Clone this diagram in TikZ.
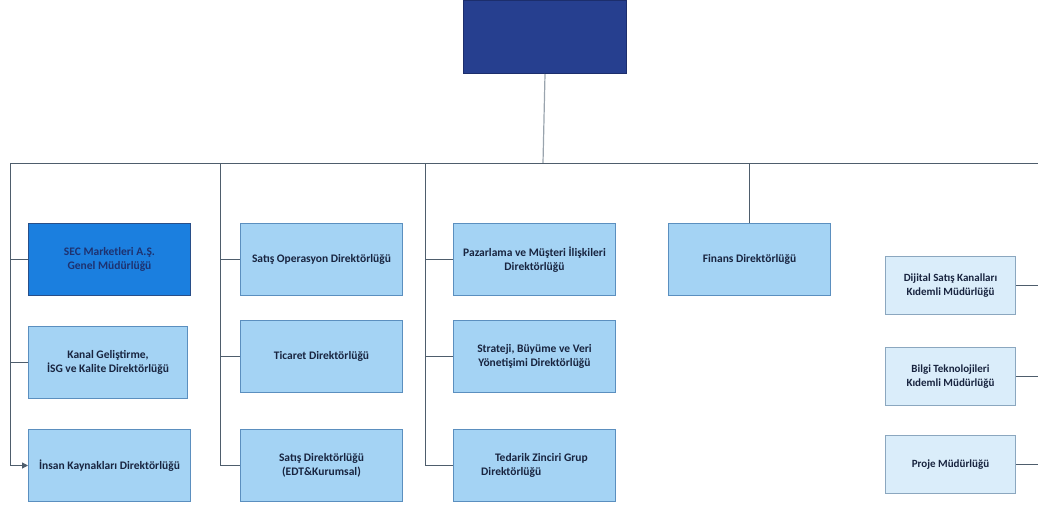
\documentclass[tikz,border=0pt]{standalone}
\usepackage{fontspec}
\setmainfont{Carlito}
\usetikzlibrary{arrows.meta}
\definecolor{lineC}{HTML}{4E5D6C}
\definecolor{lineL}{HTML}{9AA4AE}
\definecolor{boxF}{HTML}{A4D3F4}
\definecolor{boxD}{HTML}{5B8FBF}
\definecolor{paleF}{HTML}{DAEDFA}
\definecolor{paleD}{HTML}{8BA7BF}
\definecolor{secF}{HTML}{1B7FDF}
\definecolor{secD}{HTML}{284E88}
\definecolor{secT}{HTML}{1E3270}
\definecolor{topF}{HTML}{263F8F}
\definecolor{topD}{HTML}{1C2E6C}
\definecolor{txtC}{HTML}{18243F}
\tikzset{
  x=1pt, y=-1pt,
  unitbox/.style={draw=boxD, fill=boxF, line width=1pt, anchor=north west,
    minimum width=162pt, minimum height=72pt, align=center, text=txtC,
    inner sep=2pt, font=\bfseries\fontsize{11.5}{14}\selectfont},
  palebox/.style={unitbox, draw=paleD, fill=paleF, minimum width=130pt,
    minimum height=58pt, font=\bfseries\fontsize{11}{13.5}\selectfont},
  conn/.style={draw=lineC, line width=1pt},
}
\begin{document}
\begin{tikzpicture}
\useasboundingbox (0,0) rectangle (1038,506);
% top box
\node[draw=topD, fill=topF, line width=1pt, anchor=north west,
      minimum width=163pt, minimum height=73pt] (top) at (463,0) {};
% trunk
\coordinate (hl) at (10,163);
\coordinate (hr) at (1038,163);
\coordinate (jt) at (543,163);
\draw[draw=lineL, line width=1.2pt] (top.south) -- (jt);
\draw[conn] (hl) -- (hr);
% column 1
\node[unitbox, fill=secF, draw=secD, text=secT] (sec) at (28,223) {SEC Marketleri A.Ş.\\Genel Müdürlüğü};
\node[unitbox, minimum width=159pt] (kanal) at (28,326) {Kanal Geliştirme,\\İSG ve Kalite Direktörlüğü};
\node[unitbox] (insan) at (28,429) {İnsan Kaynakları Direktörlüğü};
% column 2
\node[unitbox] (satop) at (240,223) {Satış Operasyon Direktörlüğü};
\node[unitbox] (ticaret) at (240,320) {Ticaret Direktörlüğü};
\node[unitbox] (satdir) at (240,429) {Satış Direktörlüğü\\(EDT\&Kurumsal)};
% column 3
\node[unitbox] (pazar) at (453,223) {Pazarlama ve Müşteri İlişkileri\\Direktörlüğü};
\node[unitbox] (strat) at (453,320) {Strateji, Büyüme ve Veri\\Yönetişimi Direktörlüğü};
\node[unitbox, align=left] (tedarik) at (453,429) {\hspace*{1.2em}Tedarik Zinciri Grup\\Direktörlüğü};
% finance
\node[unitbox] (finans) at (668,223) {Finans Direktörlüğü};
% right column
\node[palebox] (dijital) at (885,256) {Dijital Satış Kanalları\\Kıdemli Müdürlüğü};
\node[palebox] (bilgi) at (885,347) {Bilgi Teknolojileri\\Kıdemli Müdürlüğü};
\node[palebox] (proje) at (885,435) {Proje Müdürlüğü};
% column trunks
\coordinate (c1) at (10,163);
\coordinate (c2) at (220,163);
\coordinate (c3) at (425,163);
\draw[conn] (c1) |- (sec.west);
\draw[conn] (c1) |- (kanal.west);
\draw[conn, -{Triangle[length=6pt,width=6pt]}] (c1) |- (insan.west);
\draw[conn] (c2) |- (satop.west);
\draw[conn] (c2) |- (ticaret.west);
\draw[conn] (c2) |- (satdir.west);
\draw[conn] (c3) |- (pazar.west);
\draw[conn] (c3) |- (strat.west);
\draw[conn] (c3) |- (tedarik.west);
\draw[conn] (finans.north) -- (finans.north |- hl);
% right branches
\coordinate (r1) at (1038,285);
\coordinate (r2) at (1038,376);
\coordinate (r3) at (1038,464);
\draw[conn] (dijital.east) -- (dijital.east -| r1);
\draw[conn] (bilgi.east) -- (bilgi.east -| r2);
\draw[conn] (proje.east) -- (proje.east -| r3);
\end{tikzpicture}
\end{document}
